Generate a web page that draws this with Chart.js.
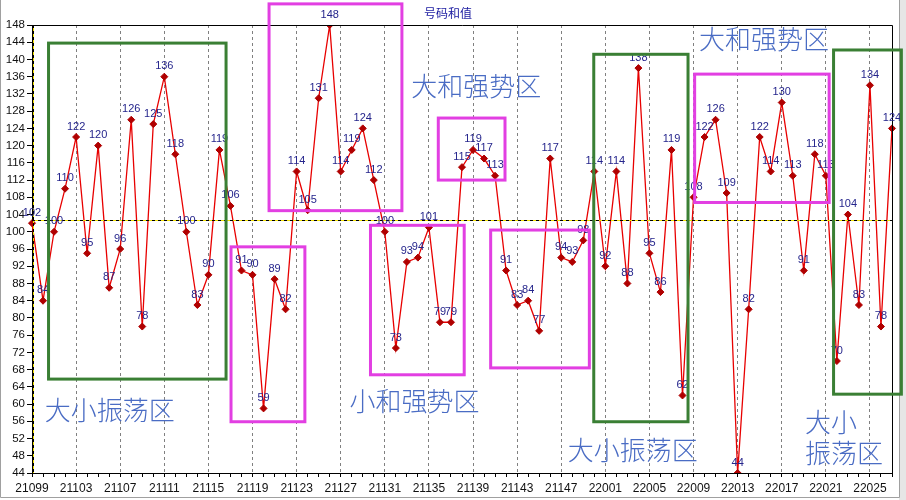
<!DOCTYPE html>
<html>
<head>
<meta charset="utf-8">
<script src="https://cdn.jsdelivr.net/npm/chart.js@4/dist/chart.umd.min.js"></script>
<style>
  html, body { margin: 0; padding: 0; background: #fff; }
  #wrap { width: 906px; height: 500px; }
</style>
</head>
<body>
<div id="wrap"><canvas id="sumChart" width="906" height="500"></canvas></div>
<script>
// periods (x axis)
const periods = [
  '21099','21100','21101','21102','21103','21104','21105','21106','21107','21108',
  '21109','21110','21111','21112','21113','21114','21115','21116','21117','21118',
  '21119','21120','21121','21122','21123','21124','21125','21126','21127','21128',
  '21129','21130','21131','21132','21133','21134','21135','21136','21137','21138',
  '21139','21140','21141','21142','21143','21144','21145','21146','21147','21148',
  '21149','21150','22001','22002','22003','22004','22005','22006','22007','22008',
  '22009','22010','22011','22012','22013','22014','22015','22016','22017','22018',
  '22019','22020','22021','22022','22023','22024','22025','22026','22027'
];

// sum of drawn numbers per period
const sums = [
  102, 84, 100, 110, 122, 95, 120, 87, 96, 126,
  78, 125, 136, 118, 100, 83, 90, 119, 106, 91,
  90, 59, 89, 82, 114, 105, 131, 148, 114, 119,
  124, 112, 100, 73, 93, 94, 101, 79, 79, 115,
  119, 117, 113, 91, 83, 84, 77, 117, 94, 93,
  98, 114, 92, 114, 88, 138, 95, 86, 119, 62,
  108, 122, 126, 109, 44, 82, 122, 114, 130, 113,
  91, 118, 113, 70, 104, 83, 134, 78, 124
];

const yTicks = { min: 44, max: 148, step: 4 };
const avgValue = 102.7;
const chartTitle = '号码和值';

// zones marked on the chart: [x from, x to (category index), y top, y bottom]
const zoneBoxes = [
  { x0: 1.5, x1: 17.6, y0: 143.8, y1: 65.8, color: '#3a7f34' },
  { x0: 21.5, x1: 33.55, y0: 152.9, y1: 104.9, color: '#e23fe2' },
  { x0: 18.05, x1: 24.75, y0: 96.5, y1: 55.9, color: '#e23fe2' },
  { x0: 30.7, x1: 39.2, y0: 101.5, y1: 66.8, color: '#e23fe2' },
  { x0: 36.85, x1: 42.9, y0: 126.4, y1: 112.0, color: '#e23fe2' },
  { x0: 41.6, x1: 50.55, y0: 100.4, y1: 68.4, color: '#e23fe2' },
  { x0: 50.95, x1: 59.5, y0: 141.2, y1: 55.9, color: '#3a7f34' },
  { x0: 60.1, x1: 72.3, y0: 136.6, y1: 106.8, color: '#e23fe2' },
  { x0: 72.7, x1: 78.85, y0: 142.2, y1: 62.3, color: '#3a7f34' }
];

const zoneTexts = [
  { text: '大小振荡区', x: 1.15, y: 58.6 },
  { text: '大和强势区', x: 34.4, y: 133.7 },
  { text: '小和强势区', x: 28.8, y: 60.6 },
  { text: '大小振荡区', x: 48.6, y: 49.3 },
  { text: '大和强势区', x: 60.5, y: 144.7 },
  { text: '大小', x: 70.1, y: 55.9 },
  { text: '振荡区', x: 70.1, y: 48.6 }
];

const extras = {
  id: 'extras',
  beforeDraw(chart) {
    const c = chart.ctx;
    c.save();
    c.fillStyle = '#fff';
    c.fillRect(0, 0, chart.width, chart.height);
    // window frame
    c.fillStyle = '#e6e6e6';
    c.fillRect(899, 0, 7, 500);
    c.strokeStyle = '#a0a0a0';
    c.lineWidth = 1;
    c.beginPath();
    c.moveTo(0.5, 0); c.lineTo(0.5, 497.5); c.lineTo(899.5, 497.5); c.lineTo(899.5, 0);
    c.stroke();
    c.restore();
  },
  afterDatasetsDraw(chart) {
    const c = chart.ctx;
    const xs = chart.scales.x, ys = chart.scales.y;
    const a = chart.chartArea;
    c.save();
    // frame top + right
    c.strokeStyle = '#000';
    c.lineWidth = 1;
    c.setLineDash([]);
    c.beginPath();
    c.moveTo(a.left, a.top + 0.5); c.lineTo(a.right + 0.5, a.top + 0.5); c.lineTo(a.right + 0.5, a.bottom);
    c.stroke();

    // average line and start line, yellow/black dashes
    const yAvg = Math.round(ys.getPixelForValue(avgValue)) + 0.5;
    const x0 = Math.round(xs.getPixelForValue(0)) + 1.5;
    [['#f0e000', []], ['#000', [3, 3]]].forEach(([col, dash]) => {
      c.strokeStyle = col;
      c.setLineDash(dash);
      c.beginPath();
      c.moveTo(a.left, yAvg); c.lineTo(a.right, yAvg);
      c.moveTo(x0, a.top); c.lineTo(x0, a.bottom);
      c.stroke();
    });
    c.setLineDash([]);

    // value labels
    const meta = chart.getDatasetMeta(0);
    c.font = '11px "Liberation Sans", Arial, sans-serif';
    c.fillStyle = '#25258c';
    c.textAlign = 'center';
    c.textBaseline = 'bottom';
    meta.data.forEach((pt, i) => {
      c.fillText(String(sums[i]), pt.x, pt.y - 5);
    });

    // zone boxes
    c.lineWidth = 3;
    zoneBoxes.forEach(b => {
      const l = xs.getPixelForValue(b.x0), r = xs.getPixelForValue(b.x1);
      const t = ys.getPixelForValue(b.y0), btm = ys.getPixelForValue(b.y1);
      c.strokeStyle = b.color;
      c.strokeRect(l, t, r - l, btm - t);
    });
    // zone texts
    c.font = '300 26px "Noto Sans CJK SC", sans-serif';
    c.fillStyle = '#4a6cc4';
    c.textAlign = 'left';
    c.textBaseline = 'middle';
    zoneTexts.forEach(t => {
      c.fillText(t.text, xs.getPixelForValue(t.x), ys.getPixelForValue(t.y));
    });

    // title
    c.font = '12px "Noto Sans CJK SC", sans-serif';
    c.fillStyle = '#1a1aa0';
    c.textAlign = 'center';
    c.fillText(chartTitle, 448, 13);
    c.restore();
  }
};

new Chart(document.getElementById('sumChart'), {
  type: 'line',
  data: {
    labels: periods,
    datasets: [{
      label: chartTitle,
      data: sums,
      borderColor: '#e80000',
      borderWidth: 1.3,
      tension: 0,
      pointStyle: 'rectRot',
      pointRadius: 3.5,
      pointBackgroundColor: '#b00000',
      pointBorderColor: '#b00000',
      pointBorderWidth: 1
    }]
  },
  options: {
    responsive: false,
    animation: false,
    devicePixelRatio: 1,
    layout: { padding: { top: 25, right: 14, left: 0, bottom: 0 } },
    plugins: { legend: { display: false }, tooltip: { enabled: false }, title: { display: false } },
    scales: {
      x: {
        offset: false,
        afterFit: s => { s.height = 27; },
        border: { color: '#000', width: 1, dash: [3, 3] },
        grid: {
          color: ctx => (ctx.index % 4 === 0 ? '#808080' : 'rgba(0,0,0,0)'),
          tickColor: '#000',
          tickLength: 4,
          tickBorderDash: []
        },
        ticks: {
          autoSkip: false,
          maxRotation: 0,
          padding: 4,
          color: '#111',
          font: { family: '"Liberation Sans", Arial, sans-serif', size: 12 },
          callback: (v, i) => (i % 4 === 0 ? periods[i] : '')
        }
      },
      y: {
        min: yTicks.min,
        max: yTicks.max,
        afterFit: s => { s.width = 32; },
        border: { color: '#000', width: 1 },
        grid: { drawOnChartArea: false, tickColor: '#000', tickLength: 5 },
        ticks: {
          stepSize: yTicks.step,
          padding: 2,
          color: '#111',
          font: { family: '"Liberation Sans", Arial, sans-serif', size: 11.5 }
        }
      }
    }
  },
  plugins: [extras]
});
</script>
</body>
</html>
